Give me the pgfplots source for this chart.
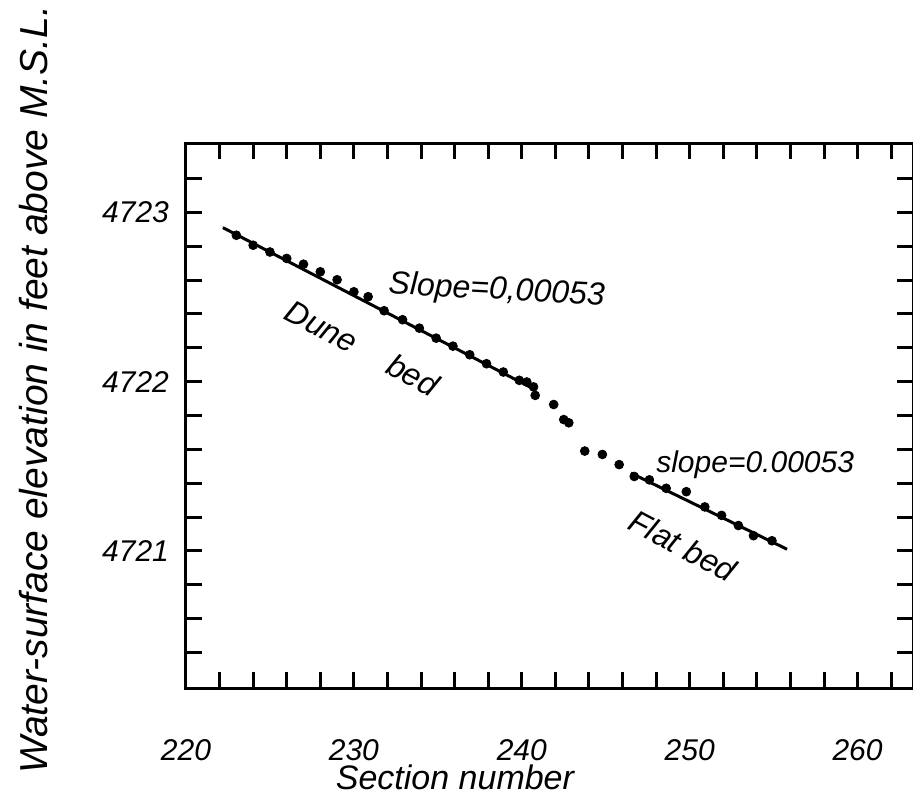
\documentclass[border=0pt]{standalone}
\usepackage{fontspec}
\setmainfont{Liberation Sans}
\usepackage{pgfplots}
\pgfplotsset{compat=1.18}

% measured water-surface points (section, elevation)
\pgfplotstableread{
x y
223 4722.865
224 4722.806
225 4722.766
226 4722.728
227 4722.694
228 4722.649
229 4722.602
230 4722.531
230.85 4722.502
231.8 4722.419
232.9 4722.366
233.9 4722.316
234.9 4722.257
235.9 4722.210
236.9 4722.159
237.9 4722.106
238.9 4722.057
239.85 4722.008
240.3 4721.998
240.7 4721.969
240.8 4721.919
241.9 4721.865
242.5 4721.776
242.8 4721.757
243.75 4721.59
244.8 4721.57
245.8 4721.51
246.7 4721.44
247.6 4721.42
248.6 4721.37
249.8 4721.35
250.9 4721.26
251.9 4721.21
252.9 4721.15
253.8 4721.09
254.9 4721.06
}\points

\begin{document}
\begin{tikzpicture}
\begin{axis}[
    scale only axis,
    width=363.5pt, height=272.5pt,
    xmin=220, xmax=263.3,
    ymin=4720.19, ymax=4723.41,
    axis line style={line width=1.5pt},
    tick pos=both,
    tick align=inside,
    xtick={220,230,...,260},
    minor xtick={222,224,...,262},
    ytick={4721,4722,4723},
    minor ytick={4720.4,4720.6,4720.8,4721.2,4721.4,4721.6,4721.8,4722.2,4722.4,4722.6,4722.8,4723.2},
    tick style={black, line width=1.5pt},
    major tick length=8pt, minor tick length=8pt,
    /pgf/number format/assume math mode=true,
    /pgf/number format/1000 sep={},
    xticklabel style={font=\fontsize{15}{18}\selectfont\itshape, yshift=-22pt},
    yticklabel style={font=\fontsize{15}{18}\selectfont\itshape, xshift=-5pt},
    xlabel={Section number},
    xlabel style={font=\fontsize{17}{20}\selectfont\itshape, at={(axis description cs:0.37,-0.163)}, anchor=center},
    ylabel={Water-surface elevation in feet above M.S.L.},
    ylabel style={font=\fontsize{19.5}{22}\selectfont\itshape, at={(axis description cs:-0.21,0.547)}, anchor=center, rotate=0},
    clip=false,
]
% fitted lines
\addplot[black, line width=1.5pt] coordinates {(222.2,4722.91) (240.65,4721.96)};
\addplot[black, line width=1.5pt] coordinates {(246.5,4721.46) (255.8,4721.01)};
% observed points
\addplot[only marks, mark=*, mark size=2.2pt, black] table[x=x, y=y] {\points};

\node[font=\fontsize{16}{19}\selectfont\itshape, rotate=-3] at (axis cs:238.5,4722.535) {Slope=0,00053};
\node[font=\fontsize{16}{19}\selectfont\itshape, rotate=-28] at (axis cs:230.5,4722.2) {Dune\hspace{1.2em}bed};
\node[font=\fontsize{15}{18}\selectfont\itshape] at (axis cs:253.9,4721.51) {slope=0.00053};
\node[font=\fontsize{16}{19}\selectfont\itshape, rotate=-28] at (axis cs:249.6,4721.03) {Flat bed};

\coordinate (bl) at (rel axis cs:-0.2558,-0.2018);
\coordinate (tr) at (rel axis cs:1,1.2624);
\end{axis}
\pgfresetboundingbox
\path[use as bounding box] (bl) rectangle (tr);
\end{tikzpicture}
\end{document}
